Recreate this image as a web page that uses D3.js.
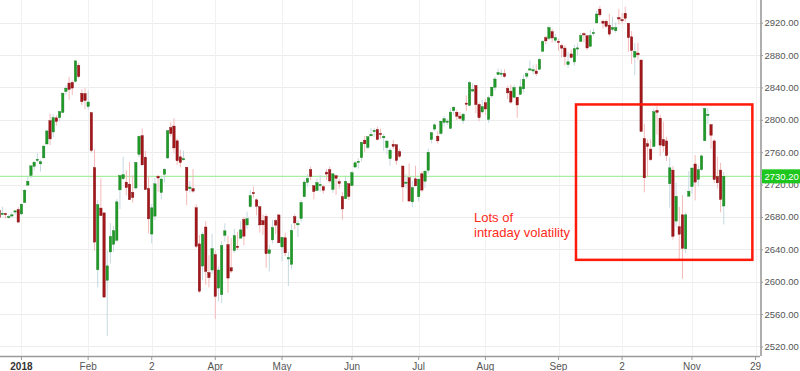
<!DOCTYPE html>
<html>
<head>
<meta charset="utf-8">
<script src="https://cdn.jsdelivr.net/npm/d3@7"></script>
<style>
body { margin: 0; background: #fff; }
svg { display: block; font-family: "Liberation Sans", Arial, sans-serif; }
</style>
</head>
<body>
<svg id="chart" width="800" height="371"></svg>
<script>
// trading calendar: weekdays from firstDay to lastDay, minus market holidays
var firstDay = "2017-12-20", lastDay = "2018-11-30";
var holidays = ["2017-12-25", "2018-01-01", "2018-01-15", "2018-02-19", "2018-03-30",
                "2018-05-28", "2018-07-04", "2018-09-03"];

// S&P 500 daily candles, 2017-12-20 .. 2018-11-15
var open = [
  2688.18, 2683.02, 2684.22, 2679.09, 2682.10, 2686.10, 2689.15,
  2683.73, 2697.85, 2719.31, 2731.33, 2742.67, 2751.15, 2745.55, 2752.97, 2770.18, 2798.96, 2784.99, 2802.40, 2802.60, 2809.16, 2835.05, 2845.42, 2846.24, 2847.48, 2867.23, 2832.74, 2832.41,
  2816.45, 2808.92, 2741.06, 2614.78, 2690.95, 2685.01, 2601.78, 2636.75, 2646.27, 2651.21, 2713.46, 2727.14, 2722.99, 2720.53, 2710.42, 2715.80, 2757.37, 2780.45, 2753.78,
  2715.22, 2658.89, 2681.06, 2730.18, 2710.18, 2732.75, 2752.91, 2790.54, 2792.31, 2774.06, 2754.27, 2750.57, 2741.38, 2715.05, 2714.99, 2691.36, 2646.71, 2619.35, 2667.57, 2611.30, 2614.41,
  2633.45, 2592.17, 2584.04, 2657.36, 2645.82, 2617.18, 2638.41, 2643.89, 2653.83, 2676.90, 2670.10, 2692.74, 2710.11, 2701.16, 2692.56, 2675.40, 2680.80, 2634.92, 2651.65, 2675.47, 2682.51,
  2642.96, 2654.24, 2628.08, 2621.45, 2680.34, 2670.26, 2678.12, 2705.02, 2722.70, 2738.47, 2718.59, 2712.62, 2719.71, 2717.35, 2735.39, 2738.34, 2713.98, 2730.94, 2723.60, 2705.11, 2702.43, 2720.98,
  2718.70, 2741.67, 2748.46, 2753.25, 2774.84, 2765.84, 2780.18, 2785.60, 2787.94, 2783.21, 2777.78, 2765.79, 2752.01, 2769.73, 2769.28, 2760.79, 2742.94, 2722.12, 2728.45, 2698.69, 2727.13,
  2704.95, 2733.27, 2724.19, 2737.68, 2775.62, 2788.56, 2779.82, 2783.14, 2796.93, 2797.36, 2789.34, 2811.35, 2809.37, 2804.55, 2799.17, 2820.68, 2817.73, 2835.49, 2842.35, 2819.00, 2809.73,
  2821.17, 2800.48, 2829.62, 2840.29, 2855.92, 2856.79, 2857.19, 2838.90, 2835.46, 2827.88, 2827.95, 2831.44, 2838.32, 2853.93, 2861.51, 2860.99, 2860.29, 2862.35, 2884.69, 2901.45, 2900.62, 2908.94, 2898.37,
  2896.96, 2891.59, 2888.64, 2868.26, 2881.39, 2871.57, 2888.29, 2896.85, 2906.38, 2903.83, 2890.74, 2906.60, 2919.73, 2936.76, 2921.83, 2921.75, 2916.98, 2911.65, 2910.03,
  2926.29, 2923.80, 2931.69, 2919.35, 2902.54, 2877.53, 2882.51, 2873.90, 2776.87, 2770.54, 2763.83, 2767.05, 2811.67, 2802.00, 2775.66, 2773.94, 2721.03, 2737.87, 2674.88, 2667.86, 2682.65, 2640.68, 2705.60,
  2717.58, 2745.45, 2726.37, 2738.40, 2774.13, 2806.38, 2794.10, 2773.93, 2730.05, 2737.90, 2693.52
];
var high = [
  2691.01, 2692.64, 2685.35, 2682.74, 2685.64, 2687.66, 2692.12,
  2695.89, 2714.37, 2729.29, 2743.45, 2748.51, 2759.14, 2750.80, 2767.56, 2787.85, 2807.54, 2807.04, 2805.83, 2810.33, 2833.03, 2842.24, 2852.97, 2848.56, 2872.87, 2870.62, 2837.75, 2839.26,
  2835.96, 2808.92, 2763.39, 2701.04, 2727.67, 2685.27, 2638.67, 2672.61, 2668.84, 2702.10, 2731.51, 2754.42, 2737.60, 2747.75, 2731.26, 2747.76, 2780.64, 2789.15, 2761.52,
  2730.89, 2696.25, 2728.09, 2732.08, 2730.60, 2740.45, 2786.57, 2796.98, 2801.90, 2777.11, 2763.03, 2761.85, 2741.38, 2724.22, 2739.14, 2695.68, 2657.67, 2661.36, 2674.78, 2632.65, 2659.07,
  2638.30, 2619.14, 2649.86, 2672.08, 2656.88, 2653.55, 2665.45, 2661.43, 2674.72, 2680.26, 2686.49, 2713.34, 2717.49, 2702.84, 2693.94, 2682.86, 2683.55, 2645.30, 2676.48, 2677.35, 2682.87,
  2655.27, 2660.87, 2637.14, 2670.93, 2683.35, 2676.34, 2701.27, 2726.11, 2732.86, 2742.10, 2718.59, 2727.76, 2731.96, 2719.50, 2739.19, 2742.24, 2733.33, 2731.97, 2727.36, 2710.67, 2729.34, 2722.50,
  2736.93, 2749.16, 2752.61, 2772.39, 2779.90, 2779.39, 2790.21, 2789.80, 2791.47, 2789.06, 2782.81, 2774.99, 2765.05, 2774.86, 2769.28, 2764.17, 2742.94, 2732.91, 2746.09, 2724.34, 2743.26,
  2727.26, 2736.58, 2737.83, 2764.41, 2784.65, 2795.58, 2785.91, 2799.22, 2804.53, 2801.19, 2814.19, 2816.76, 2812.05, 2809.70, 2808.61, 2829.99, 2848.03, 2845.57, 2843.17, 2821.74, 2824.46,
  2825.83, 2829.91, 2840.38, 2853.29, 2863.43, 2862.44, 2862.48, 2842.20, 2843.40, 2843.11, 2827.95, 2850.49, 2855.63, 2859.76, 2873.23, 2867.54, 2868.78, 2876.16, 2898.25, 2903.77, 2916.50, 2912.46, 2906.32,
  2900.18, 2894.21, 2892.05, 2883.81, 2886.93, 2892.52, 2894.65, 2906.76, 2908.30, 2904.65, 2911.17, 2912.36, 2934.80, 2940.91, 2923.79, 2923.95, 2931.15, 2927.22, 2920.53,
  2937.06, 2931.42, 2939.86, 2919.78, 2909.64, 2894.83, 2894.83, 2874.02, 2795.14, 2775.77, 2775.99, 2813.46, 2816.94, 2806.04, 2797.77, 2778.94, 2753.59, 2742.59, 2722.70, 2692.38, 2706.85, 2685.43, 2736.69,
  2741.67, 2756.55, 2744.27, 2756.82, 2815.15, 2814.75, 2794.10, 2775.99, 2754.60, 2746.80, 2735.38
];
var low = [
  2676.11, 2682.40, 2678.13, 2677.96, 2678.91, 2682.69, 2673.61,
  2682.36, 2697.77, 2719.07, 2727.92, 2737.60, 2747.86, 2736.06, 2752.78, 2769.64, 2768.64, 2778.38, 2792.56, 2798.08, 2808.12, 2830.59, 2824.81, 2830.94, 2846.18, 2851.48, 2818.27, 2813.04,
  2812.70, 2759.97, 2638.17, 2593.07, 2681.33, 2580.56, 2532.69, 2622.45, 2637.08, 2648.87, 2689.82, 2725.11, 2706.76, 2701.29, 2697.77, 2713.74, 2753.78, 2744.22, 2713.54,
  2659.65, 2647.32, 2675.75, 2711.26, 2701.74, 2722.65, 2751.54, 2779.26, 2758.68, 2744.38, 2741.47, 2749.97, 2694.59, 2710.05, 2709.79, 2641.59, 2585.89, 2601.81, 2596.12, 2593.06, 2609.72,
  2553.80, 2575.49, 2573.61, 2649.58, 2586.27, 2610.79, 2635.78, 2639.25, 2653.83, 2645.05, 2665.16, 2692.05, 2703.63, 2681.90, 2660.61, 2657.99, 2617.32, 2612.67, 2647.16, 2659.01, 2648.04,
  2625.41, 2631.70, 2594.62, 2615.32, 2664.70, 2655.20, 2674.14, 2704.54, 2717.45, 2725.47, 2701.91, 2712.17, 2711.36, 2709.18, 2725.70, 2721.88, 2709.54, 2707.38, 2714.99, 2676.81, 2702.43, 2700.68,
  2718.70, 2740.54, 2739.51, 2748.46, 2760.16, 2763.59, 2780.17, 2778.78, 2774.65, 2776.52, 2761.73, 2757.12, 2743.19, 2763.91, 2744.39, 2752.68, 2698.67, 2715.60, 2699.38, 2691.99, 2718.03,
  2698.95, 2711.16, 2716.02, 2733.52, 2770.73, 2786.24, 2770.77, 2781.53, 2791.69, 2793.39, 2789.24, 2805.89, 2799.77, 2800.01, 2795.14, 2811.12, 2817.73, 2835.26, 2808.34, 2798.11, 2808.06,
  2805.85, 2796.34, 2827.37, 2835.98, 2855.92, 2853.09, 2851.98, 2825.81, 2819.88, 2826.58, 2802.49, 2831.44, 2833.73, 2850.62, 2861.32, 2856.05, 2854.03, 2862.35, 2884.69, 2893.50, 2898.40, 2895.22, 2895.77,
  2885.13, 2876.92, 2867.29, 2864.12, 2875.94, 2866.78, 2879.20, 2896.39, 2895.77, 2886.16, 2890.43, 2903.82, 2919.73, 2927.11, 2912.63, 2913.70, 2903.28, 2909.27, 2907.50,
  2917.91, 2919.37, 2921.36, 2883.92, 2869.29, 2855.04, 2874.27, 2784.86, 2710.51, 2729.44, 2749.03, 2766.91, 2781.81, 2755.18, 2760.27, 2749.22, 2691.43, 2651.89, 2667.84, 2628.16, 2603.54, 2635.34, 2705.60,
  2708.85, 2700.44, 2717.94, 2737.08, 2774.13, 2794.99, 2764.24, 2722.00, 2714.98, 2685.75, 2670.75
];
var close = [
  2679.25, 2684.57, 2683.34, 2680.50, 2682.62, 2687.54, 2673.61,
  2695.81, 2713.06, 2723.99, 2743.15, 2747.71, 2751.29, 2748.23, 2767.56, 2786.24, 2776.42, 2802.56, 2798.03, 2810.30, 2832.97, 2839.13, 2837.54, 2839.25, 2872.87, 2853.53, 2822.43, 2823.81,
  2821.98, 2762.13, 2648.94, 2695.14, 2681.66, 2581.00, 2619.55, 2656.00, 2662.94, 2698.63, 2731.20, 2732.22, 2716.26, 2701.33, 2703.96, 2747.30, 2779.60, 2744.28, 2713.83,
  2677.67, 2691.25, 2720.94, 2728.12, 2726.80, 2738.97, 2786.57, 2783.02, 2765.31, 2749.48, 2747.33, 2752.01, 2712.92, 2716.94, 2711.93, 2643.69, 2588.26, 2658.55, 2612.62, 2605.00, 2640.87,
  2581.88, 2614.45, 2644.69, 2662.84, 2604.47, 2613.16, 2656.87, 2642.19, 2663.99, 2656.30, 2677.84, 2706.39, 2708.64, 2693.13, 2670.14, 2670.29, 2634.56, 2639.40, 2666.94, 2669.91, 2648.05,
  2654.80, 2635.67, 2629.73, 2663.42, 2672.63, 2671.92, 2697.79, 2723.07, 2727.72, 2730.13, 2711.45, 2722.46, 2720.13, 2712.97, 2733.01, 2724.44, 2733.29, 2727.76, 2721.33, 2689.86, 2724.01, 2705.27,
  2734.62, 2746.87, 2748.80, 2772.35, 2770.37, 2779.03, 2782.00, 2786.85, 2775.63, 2782.49, 2779.66, 2773.75, 2762.59, 2767.32, 2749.76, 2754.88, 2717.07, 2723.06, 2699.63, 2716.31, 2718.37,
  2726.71, 2713.22, 2736.61, 2759.82, 2784.17, 2793.84, 2774.02, 2798.29, 2801.31, 2798.43, 2809.55, 2815.62, 2804.49, 2801.83, 2806.98, 2820.40, 2846.07, 2837.44, 2818.82, 2802.60, 2816.29,
  2813.36, 2827.22, 2840.35, 2850.40, 2858.45, 2857.70, 2853.58, 2833.28, 2821.93, 2839.96, 2818.37, 2840.69, 2850.13, 2857.05, 2862.96, 2861.82, 2856.98, 2874.69, 2896.74, 2897.52, 2914.04, 2901.13, 2901.52,
  2896.72, 2888.60, 2878.05, 2871.68, 2877.13, 2887.89, 2888.92, 2904.18, 2904.98, 2888.80, 2904.31, 2907.95, 2930.75, 2929.67, 2919.37, 2915.56, 2905.97, 2914.00, 2913.98,
  2924.59, 2923.43, 2925.51, 2901.61, 2885.57, 2884.43, 2880.34, 2785.68, 2728.37, 2767.13, 2750.79, 2809.92, 2809.21, 2768.78, 2767.78, 2755.88, 2740.69, 2656.10, 2705.57, 2658.69, 2641.25, 2682.63, 2711.74,
  2740.37, 2723.06, 2738.31, 2755.45, 2813.89, 2806.83, 2781.01, 2726.22, 2722.18, 2701.58, 2730.20
];

var priceTicks = [2520, 2560, 2600, 2640, 2680, 2720, 2760, 2800, 2840, 2880, 2920];
var tickDates  = ["2018-01-02", "2018-02-01", "2018-03-02", "2018-04-02", "2018-05-01", "2018-06-01",
                  "2018-07-02", "2018-08-01", "2018-09-04", "2018-10-02", "2018-11-01", "2018-11-29"];
var tickLabels = ["2018", "Feb", "2", "Apr", "May", "Jun", "Jul", "Aug", "Sep", "2", "Nov", "29"];

// annotation box: from date to date, price range
var boxDates = ["2018-09-12", "2018-11-28"];
var boxPrices = [2627, 2819];
var note = ["Lots of", "intraday volatility"];

var svg = d3.select("svg#chart"),
    plotRight = 760,
    plotBottom = 356;

var fmt = d3.timeFormat("%Y-%m-%d"),
    parse = d3.timeParse("%Y-%m-%d");

var days = d3.timeDay.range(parse(firstDay), d3.timeDay.offset(parse(lastDay), 1))
  .filter(function(d) { return d.getDay() > 0 && d.getDay() < 6 && holidays.indexOf(fmt(d)) < 0; })
  .map(fmt);

var candles = close.map(function(c, i) {
  return {date: days[i], o: open[i], h: high[i], l: low[i], c: c};
});

var x = d3.scaleBand()
    .domain(days)
    .range([-2.4, plotRight + 0.3])
    .paddingInner(0.25)
    .paddingOuter(0.125);

var y = d3.scaleLinear()
    .domain([2508.2, 2948.05])
    .range([plotBottom, 0]);

var bw = x.bandwidth();
function cx(d) { return x(d) + bw / 2; }

// grid
svg.append("g").selectAll("line")
  .data(priceTicks)
  .enter().append("line")
    .attr("x1", 0).attr("x2", plotRight)
    .attr("y1", function(d) { return Math.round(y(d)) + 0.5; })
    .attr("y2", function(d) { return Math.round(y(d)) + 0.5; })
    .attr("stroke", "#ececec");

svg.append("g").selectAll("line")
  .data(tickDates)
  .enter().append("line")
    .attr("x1", function(d) { return Math.round(cx(d)) + 0.5; })
    .attr("x2", function(d) { return Math.round(cx(d)) + 0.5; })
    .attr("y1", 0).attr("y2", plotBottom)
    .attr("stroke", "#f1f1f1");

// last price line
var last = candles[candles.length - 1];
svg.append("line")
    .attr("x1", 0).attr("x2", plotRight)
    .attr("y1", y(last.c)).attr("y2", y(last.c))
    .attr("stroke", "#a6eea0")
    .attr("stroke-width", 1.2);

// candles
var node = svg.append("g").selectAll("g")
  .data(candles)
  .enter().append("g");

node.append("line")
    .attr("x1", function(d) { return cx(d.date); })
    .attr("x2", function(d) { return cx(d.date); })
    .attr("y1", function(d) { return y(d.h); })
    .attr("y2", function(d) { return y(d.l); })
    .attr("stroke", function(d) { return d.c >= d.o ? "#c6d9e1" : "#f6b9b9"; })
    .attr("stroke-width", 1);

node.append("rect")
    .attr("x", function(d) { return x(d.date); })
    .attr("width", bw)
    .attr("y", function(d) { return y(Math.max(d.o, d.c)); })
    .attr("height", function(d) { return Math.max(1.2, Math.abs(y(d.o) - y(d.c))); })
    .attr("fill", function(d) { return d.c >= d.o ? "#1f9a28" : "#a3161a"; })
    .attr("stroke", function(d) { return d.c >= d.o ? "#157a1d" : "#7e0f12"; })
    .attr("stroke-width", 0.4);

// annotation
var step = x.step();
svg.append("rect")
    .attr("x", cx(boxDates[0]) - step / 2)
    .attr("y", y(boxPrices[1]))
    .attr("width", cx(boxDates[1]) - cx(boxDates[0]) + step / 2)
    .attr("height", y(boxPrices[0]) - y(boxPrices[1]))
    .attr("fill", "none")
    .attr("stroke", "#ff1a0a")
    .attr("stroke-width", 2.5);

svg.append("text")
    .attr("x", 474)
    .attr("y", 222)
    .attr("font-size", 13)
    .attr("fill", "#ff2a1a")
  .selectAll("tspan")
  .data(note)
  .enter().append("tspan")
    .attr("x", 474)
    .attr("dy", function(d, i) { return i ? 15 : 0; })
    .text(function(d) { return d; });

// axes
var yAxis = svg.append("g")
    .attr("transform", "translate(" + (plotRight + 1) + ",0)")
    .call(d3.axisRight(y).tickValues(priceTicks).tickFormat(d3.format(".2f")).tickSize(2).tickPadding(1.5));

var xAxis = svg.append("g")
    .attr("transform", "translate(0," + plotBottom + ")")
    .call(d3.axisBottom(x).tickValues(tickDates)
      .tickFormat(function(d, i) { return tickLabels[i]; })
      .tickSize(4).tickPadding(3));

[yAxis, xAxis].forEach(function(a) {
  a.select(".domain").attr("stroke", "#9a9a9a").attr("stroke-width", 1.6);
  a.selectAll(".tick line").attr("stroke", "#9a9a9a");
  a.selectAll("text").attr("fill", "#555").attr("font-size", 10)
    .attr("font-family", "'Liberation Sans', Arial, sans-serif");
});
yAxis.selectAll("text").attr("font-size", 9.5);
xAxis.select(".domain").attr("d", "M0,0.5H" + plotRight);
yAxis.select(".domain").attr("d", "M0,0V" + plotBottom);
xAxis.selectAll(".tick text")
    .filter(function(d, i) { return i === 0; })
    .attr("font-weight", "bold").attr("fill", "#333");

// last price tag, drawn over the axis label it covers
var tag = svg.append("g")
    .attr("transform", "translate(" + (plotRight + 2) + "," + y(last.c) + ")");
tag.append("rect")
    .attr("x", 0).attr("y", -7)
    .attr("width", 800 - plotRight - 2).attr("height", 14)
    .attr("fill", "#1ec71e");
tag.append("text")
    .attr("x", 2.5).attr("y", 3.5)
    .attr("font-size", 9.5)
    .attr("fill", "#fff")
    .text(d3.format(".2f")(last.c));
</script>
</body>
</html>
